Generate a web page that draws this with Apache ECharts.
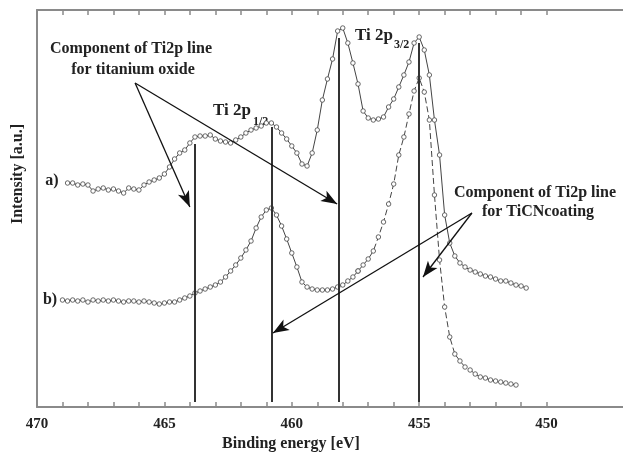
<!DOCTYPE html>
<html>
<head>
<meta charset="utf-8">
<script src="https://cdn.jsdelivr.net/npm/echarts@6/dist/echarts.min.js"></script>
<style>
html, body { margin: 0; padding: 0; background: #fff; }
#chart { width: 623px; height: 453px; }
</style>
</head>
<body>
<div id="chart"></div>
<script>
// spectrum a) : [binding energy (eV), intensity (a.u.)]
const curveA = [
  [468.8, 224], [468.6, 224], [468.4, 222], [468.2, 223], [468.0, 222], [467.8, 216],
  [467.6, 218], [467.4, 219], [467.2, 217], [467.0, 218], [466.8, 216], [466.6, 214],
  [466.4, 219], [466.2, 218], [466.0, 217], [465.8, 222], [465.6, 225], [465.4, 227],
  [465.2, 229], [465.0, 233], [464.8, 240], [464.6, 248], [464.4, 254], [464.2, 257],
  [464.0, 264], [463.8, 270], [463.6, 271], [463.4, 271], [463.2, 272], [463.0, 268],
  [462.8, 266], [462.6, 265], [462.4, 264], [462.2, 267], [462.0, 270], [461.8, 274],
  [461.6, 277], [461.4, 279], [461.2, 281], [461.0, 284], [460.8, 284], [460.6, 280],
  [460.4, 274], [460.2, 268], [460.0, 261], [459.8, 254], [459.6, 243], [459.4, 241],
  [459.2, 254], [459.0, 277], [458.8, 307], [458.6, 328], [458.4, 348], [458.2, 376],
  [458.0, 379], [457.8, 364], [457.6, 344], [457.4, 323], [457.2, 296], [457.0, 289],
  [456.8, 287], [456.6, 288], [456.4, 290], [456.2, 300], [456.0, 308], [455.8, 320],
  [455.6, 332], [455.4, 345], [455.2, 364], [455.0, 370], [454.8, 357], [454.6, 332],
  [454.4, 287], [454.2, 252], [454.0, 192], [453.8, 164], [453.6, 151], [453.4, 144],
  [453.2, 140], [453.0, 137], [452.8, 135], [452.6, 133], [452.4, 131], [452.2, 130],
  [452.0, 128], [451.8, 126], [451.6, 126], [451.4, 124], [451.2, 122], [451.0, 121],
  [450.8, 119]
]

// spectrum b), solid part
const curveB = [
  [469.0, 107], [468.8, 106], [468.6, 107], [468.4, 106], [468.2, 107], [468.0, 105],
  [467.8, 107], [467.6, 106], [467.4, 107], [467.2, 106], [467.0, 107], [466.8, 106],
  [466.6, 105], [466.4, 106], [466.2, 106], [466.0, 105], [465.8, 106], [465.6, 105],
  [465.4, 104], [465.2, 103], [465.0, 104], [464.8, 105], [464.6, 105], [464.4, 107],
  [464.2, 109], [464.0, 111], [463.8, 114], [463.6, 116], [463.4, 118], [463.2, 120],
  [463.0, 122], [462.8, 125], [462.6, 130], [462.4, 136], [462.2, 142], [462.0, 149],
  [461.8, 157], [461.6, 166], [461.4, 179], [461.2, 190], [461.0, 197], [460.8, 199],
  [460.6, 192], [460.4, 181], [460.2, 168], [460.0, 154], [459.8, 140], [459.6, 125],
  [459.4, 120], [459.2, 118], [459.0, 117], [458.8, 117], [458.6, 117], [458.4, 118],
  [458.2, 120], [458.0, 122], [457.8, 126], [457.6, 130], [457.4, 136]
]

// spectrum b), TiCN component drawn dashed
const curveBDashed = [
  [457.4, 136], [457.2, 142], [457.0, 148], [456.8, 156], [456.6, 170], [456.4, 185],
  [456.2, 203], [456.0, 223], [455.8, 252], [455.6, 270], [455.4, 293], [455.2, 316],
  [455.0, 329], [454.8, 315], [454.6, 287], [454.4, 212], [454.2, 147], [454.0, 100],
  [453.8, 70], [453.6, 53], [453.4, 46], [453.2, 40], [453.0, 37], [452.8, 33],
  [452.6, 30], [452.4, 29], [452.2, 27], [452.0, 26], [451.8, 25], [451.6, 24],
  [451.4, 23], [451.2, 22]
]

// component positions: [energy, top of the marker line]
const peakLines = [[463.8, 263], [460.8, 280], [458.15, 369], [455.0, 364]]
const lineBottom = 5

// annotation arrows: [fromE, fromI, toE, toI]
const arrows = [
  [466.15, 324, 464.0, 200],
  [466.15, 324, 458.22, 203],
  [452.93, 194, 454.85, 130],
  [452.93, 194, 460.74, 74]
]

const tickValues = [450, 451, 452, 453, 454, 455, 456, 457, 458, 459, 460,
  461, 462, 463, 464, 465, 466, 467, 468, 469, 470]
const labelValues = [450, 455, 460, 465, 470]

const FONT = '"Liberation Serif", "Times New Roman", serif'
const AXIS_GREY = '#8a8a8a'

const chart = echarts.init(document.getElementById('chart'), null, { renderer: 'canvas' })

const markerSeries = (data, dashed) => ({
  type: 'line',
  data,
  symbol: 'circle',
  symbolSize: 4.5,
  showSymbol: true,
  itemStyle: { color: '#fff', borderColor: '#444', borderWidth: 0.8 },
  lineStyle: { color: '#444', width: 1, type: dashed ? [6, 3] : 'solid' },
  emphasis: { disabled: true },
  z: 3
})

const xAxisBase = {
  type: 'value',
  min: 447,
  max: 470,
  inverse: true,
  axisLine: { show: true, onZero: false, lineStyle: { color: AXIS_GREY, width: 2 } },
  axisTick: { show: true, inside: true, length: 5, customValues: tickValues,
    lineStyle: { color: AXIS_GREY, width: 1.5 } },
  splitLine: { show: false }
}

const text = (str, x, y, size, align) => ({
  type: 'text',
  x, y,
  style: {
    text: str,
    font: `bold ${size}px ${FONT}`,
    fill: '#222',
    align: align || 'center',
    verticalAlign: 'middle'
  }
})

chart.setOption({
  backgroundColor: '#fff',
  animation: false,
  grid: { left: 37, right: 0, top: 10, bottom: 46 },
  xAxis: [
    {
      ...xAxisBase,
      position: 'bottom',
      axisLabel: { customValues: labelValues, margin: 10, color: '#222',
        fontFamily: FONT, fontWeight: 'bold', fontSize: 15 }
    },
    { ...xAxisBase, position: 'top', axisLabel: { show: false } }
  ],
  yAxis: {
    type: 'value',
    min: 0,
    max: 397,
    axisLine: { show: true, lineStyle: { color: AXIS_GREY, width: 2 } },
    axisTick: { show: false },
    axisLabel: { show: false },
    splitLine: { show: false }
  },
  series: [
    markerSeries(curveA, false),
    markerSeries(curveB, false),
    markerSeries(curveBDashed, true),
    {
      type: 'line',
      data: [],
      silent: true,
      z: 5,
      markLine: {
        silent: true,
        animation: false,
        symbol: ['none', 'none'],
        label: { show: false },
        lineStyle: { color: '#333', width: 2, type: 'solid' },
        data: peakLines.map(([e, top]) => [
          { coord: [e, lineBottom] },
          { coord: [e, top] }
        ])
      }
    },
    {
      type: 'line',
      data: [],
      silent: true,
      z: 6,
      markLine: {
        silent: true,
        animation: false,
        symbol: ['none', 'arrow'],
        symbolSize: [9, 16],
        label: { show: false },
        lineStyle: { color: '#111', width: 1.3, type: 'solid' },
        data: arrows.map(([e1, i1, e2, i2]) => [
          { coord: [e1, i1] },
          { coord: [e2, i2] }
        ])
      }
    }
  ],
  graphic: [
    { ...text('Intensity [a.u.]', 18, 174, 16), rotation: Math.PI / 2 },
    text('Binding energy [eV]', 291, 444, 16),
    text('a)', 52, 181, 16),
    text('b)', 50, 300, 16),
    text('Component of Ti2p line', 131, 49, 16),
    text('for titanium oxide', 133, 70, 16),
    text('Component of Ti2p line', 535, 193, 16),
    text('for TiCNcoating', 538, 212, 16),
    text('Ti 2p', 213, 111, 17, 'left'),
    text('1/2', 253, 122, 12, 'left'),
    text('Ti 2p', 355, 36, 17, 'left'),
    text('3/2', 394, 45, 12, 'left')
  ]
})
</script>
</body>
</html>
